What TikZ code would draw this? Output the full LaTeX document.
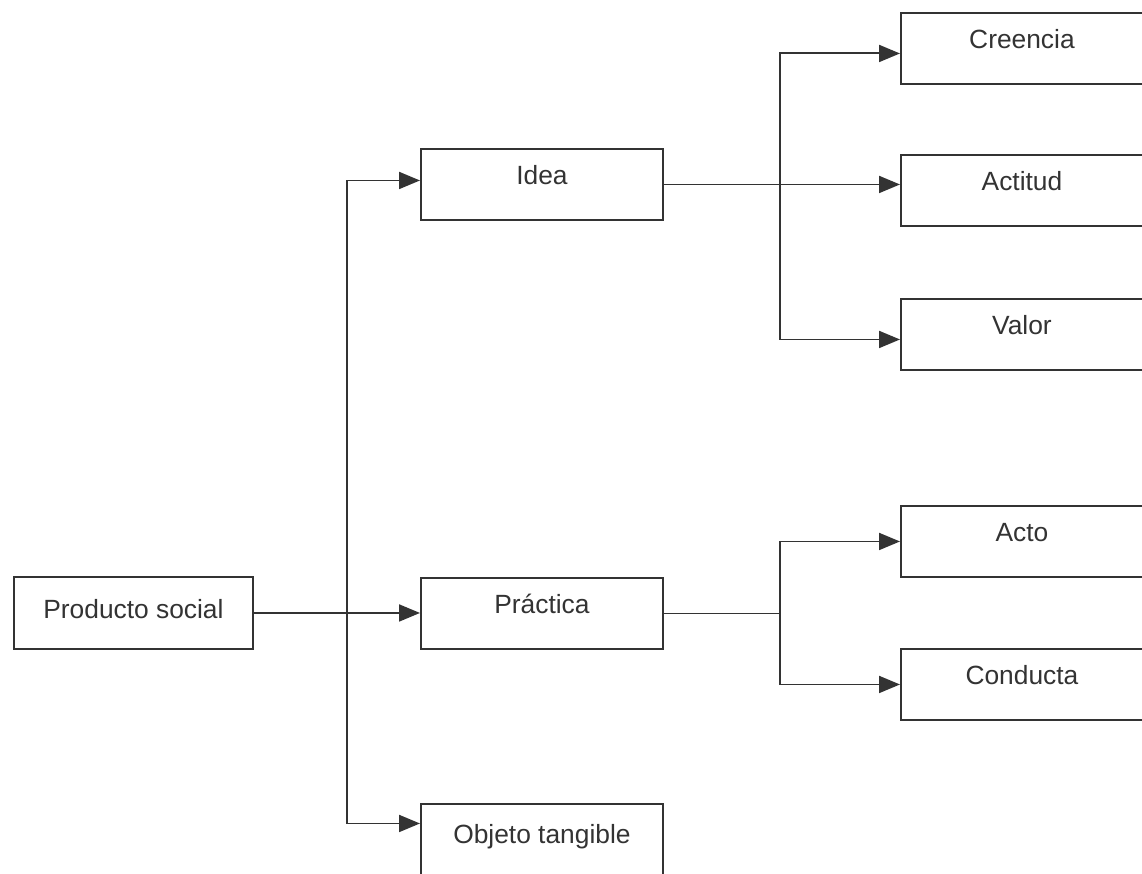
\documentclass[tikz,border=0pt]{standalone}
\usepackage{fontspec}
\setmainfont{Liberation Sans}
\usetikzlibrary{positioning, arrows.meta}

\tikzset{
    box/.style={draw=black!80, line width=1.1pt, anchor=north west,
        minimum width=4.84cm, inner xsep=0pt, inner ysep=0pt,
        text height=0.72cm, text depth=0.70cm, text=black!80,
        font=\fontsize{15}{18}\selectfont},
    link/.style={draw=black!80, line width=1.1pt},
    arrow/.style={link, -{Triangle[length=0.42cm, width=0.34cm]}}
}

\begin{document}
\begin{tikzpicture}[x=0.02cm, y=-0.02cm]
    \clip (0,0) rectangle (1142,873);
    \fill[white] (0,0) rectangle (1142,873);

    % first column
    \node[box, minimum width=4.78cm, text height=0.84cm, text depth=0.60cm] (prod) at (13,576) {Producto social};

    % second column
    \node[box] (idea) at (420,148) {Idea};
    \node[box] (prac) at (420,577) {Práctica};
    \node[box, text height=0.80cm, text depth=0.62cm] (obj) at (420,803) {Objeto tangible};

    % third column
    \node[box] (cre) at (900,12) {Creencia};
    \node[box] (act) at (900,154) {Actitud};
    \node[box] (val) at (900,298) {Valor};

    \node[box] (acto) at (900,505) {Acto};
    \node[box] (cond) at (900,648) {Conducta};

    % connectors
    \coordinate (colA) at (347,0);
    \coordinate (colB) at (780,0);
    \coordinate (trunk) at (prod.east -| colA);
    \coordinate (splitA) at (idea.east -| colB);
    \coordinate (splitB) at (prac.east -| colB);

    \draw[arrow] (prod.east) -- (prod.east -| prac.west);
    \draw[arrow] (trunk) |- ([yshift=0.08cm]idea.west);
    \draw[arrow] (trunk) |- ([yshift=0.32cm]obj.west);

    \draw[arrow] (idea.east) -- (idea.east -| act.west);
    \draw[arrow] (splitA) |- ([yshift=-0.1cm]cre.west);
    \draw[arrow] (splitA) |- ([yshift=-0.1cm]val.west);

    \draw[link] (prac.east) -- (splitB);
    \draw[arrow] (splitB) |- (acto);
    \draw[arrow] (splitB) |- (cond);

\end{tikzpicture}
\end{document}
